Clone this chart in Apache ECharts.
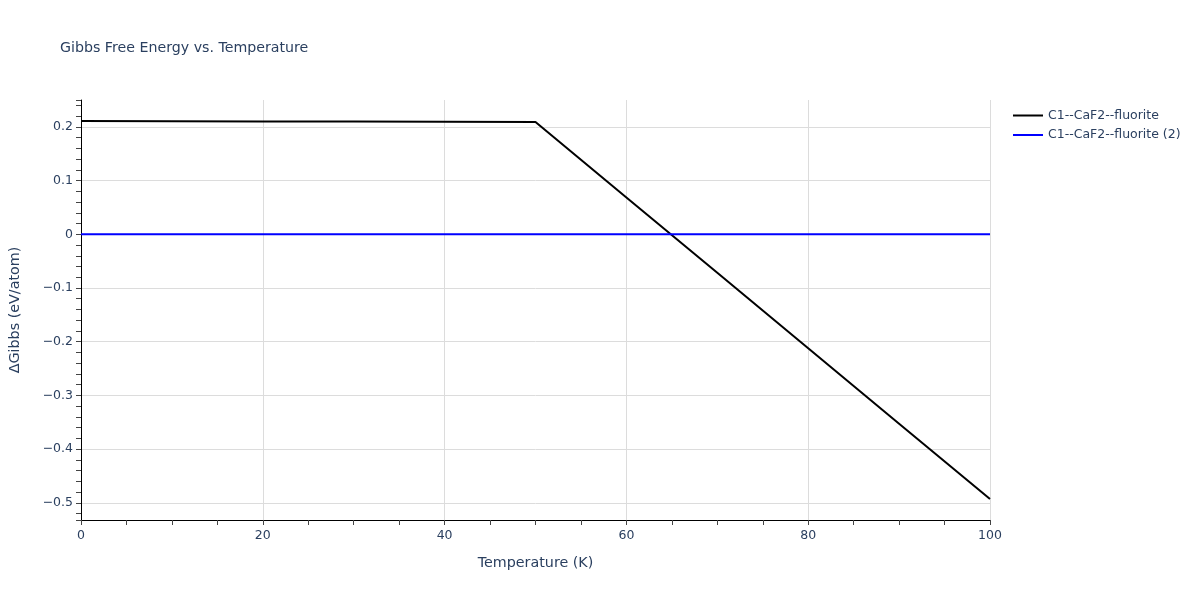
<!DOCTYPE html>
<html>
<head>
<meta charset="utf-8">
<script src="https://cdn.jsdelivr.net/npm/echarts@6/dist/echarts.min.js"></script>
<style>html,body{margin:0;padding:0;background:#fff}#c{width:1200px;height:600px}</style>
</head>
<body>
<div id="c"></div>
<script>
const temperature = [0, 10, 20, 30, 40, 50, 60, 70, 80, 90, 100];
const gibbsFluorite = [0.211, 0.2106, 0.2102, 0.2098, 0.2094, 0.209, 0.0686, -0.0718, -0.2122, -0.3526, -0.493];
const gibbsFluorite2 = [0, 0, 0, 0, 0, 0, 0, 0, 0, 0, 0];
const seriesNames = ['C1--CaF2--fluorite', 'C1--CaF2--fluorite (2)'];
const titleText = 'Gibbs Free Energy vs. Temperature';
const xName = 'Temperature (K)';
const yName = 'ΔGibbs (eV/atom)';

const txt = '#2a3f5f';
const font = 'DejaVu Sans, Verdana, sans-serif';
const chart = echarts.init(document.getElementById('c'));
const yMin = -0.532, yMax = 0.25;
chart.setOption({
  animation: false,
  textStyle: { fontFamily: font, color: txt },
  title: { text: titleText, left: 55, top: 36, textStyle: { fontFamily: font, fontSize: 14.2, fontWeight: 'normal', color: txt } },
  legend: {
    orient: 'vertical', left: 1008, top: 104, itemWidth: 30, itemHeight: 2, itemGap: 6.5,
    textStyle: { fontFamily: font, fontSize: 12.5, color: txt },
    data: seriesNames.map(n => ({ name: n, icon: 'rect' }))
  },
  grid: { left: 80, right: 210, top: 100, bottom: 80, containLabel: false },
  xAxis: {
    type: 'value', min: 0, max: 100, interval: 20,
    name: xName, nameLocation: 'middle', nameGap: 36,
    nameTextStyle: { fontFamily: font, fontSize: 14.3, color: txt },
    axisLine: { show: true, onZero: false, lineStyle: { color: '#000', width: 1 } },
    axisTick: { show: true, length: 5, lineStyle: { color: '#444' } },
    minorTick: { show: true, splitNumber: 4, length: 5, lineStyle: { color: '#444' } },
    axisLabel: { fontFamily: font, fontSize: 12.5, color: txt, margin: 9 },
    splitLine: { show: true, lineStyle: { color: '#dcdcdc', width: 1 } }
  },
  yAxis: [{
    type: 'value', min: yMin, max: yMax, splitNumber: 8,
    name: yName, nameLocation: 'middle', nameGap: 59, nameRotate: 90,
    nameTextStyle: { fontFamily: font, fontSize: 14.3, color: txt },
    axisLine: { show: false, onZero: false },
    axisTick: { show: false },
    axisLabel: { fontFamily: font, fontSize: 12.5, color: txt, margin: 8, showMinLabel: false, showMaxLabel: false,
      formatter: v => { const r = Math.round(v * 10) / 10; return r === 0 ? '0' : (r < 0 ? '\u2212' + Math.abs(r).toFixed(1) : r.toFixed(1)); } },
    splitLine: { show: true, showMinLine: false, showMaxLine: false, lineStyle: { color: '#dcdcdc', width: 1 } }
  }, {
    type: 'value', min: yMin, max: yMax, splitNumber: 39, position: 'left',
    axisLine: { show: true, onZero: false, lineStyle: { color: '#000', width: 1 } },
    axisTick: { show: true, length: 5, lineStyle: { color: '#444' } },
    axisLabel: { show: false },
    splitLine: { show: false }
  }],
  series: [{
    name: seriesNames[0], type: 'line', yAxisIndex: 0, symbol: 'none',
    lineStyle: { color: '#000', width: 2 }, itemStyle: { color: '#000' },
    data: temperature.map((t, i) => [t, gibbsFluorite[i]]), z: 3
  }, {
    name: seriesNames[1], type: 'line', yAxisIndex: 0, symbol: 'none',
    lineStyle: { color: '#0000ff', width: 2 }, itemStyle: { color: '#0000ff' },
    data: temperature.map((t, i) => [t, gibbsFluorite2[i]]), z: 4
  }]
});
</script>
</body>
</html>
